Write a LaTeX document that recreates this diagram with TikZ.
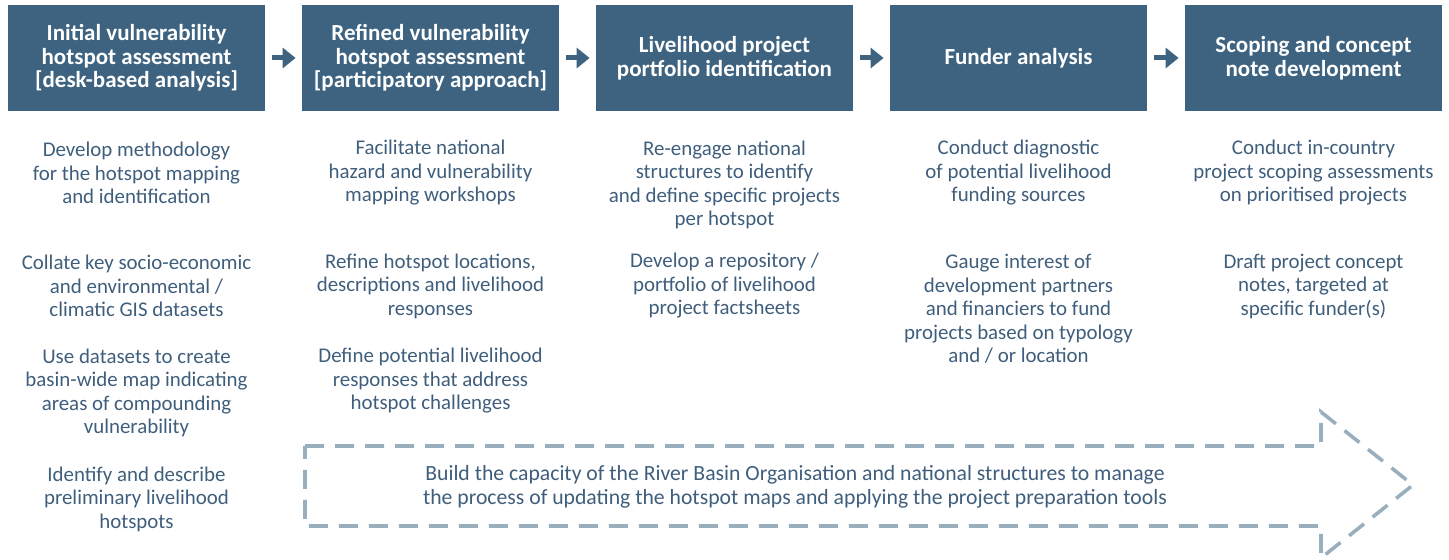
\documentclass[tikz,border=0pt]{standalone}
\usepackage{fontspec}
\setmainfont{Carlito}
\usepackage{xcolor}
\usetikzlibrary{arrows.meta,positioning}

\definecolor{boxblue}{HTML}{3E6380}
\definecolor{textblue}{HTML}{3F5E7C}
\definecolor{dashgray}{HTML}{9AAFBD}

\begin{document}
\begin{tikzpicture}[
  x=0.5pt, y=-0.5pt,
  head/.style={fill=boxblue, text=white, inner sep=0pt, align=center,
    minimum width=128.5pt, minimum height=53pt,
    font=\bfseries\fontsize{11.5}{11.75}\selectfont},
  body/.style={text=textblue, align=center, inner sep=0pt,
    font=\fontsize{10.45}{11.75}\selectfont},
  flow/.style={draw=boxblue, line width=2.5pt,
    -{Triangle[length=6.5pt,width=10pt]}},
  outline/.style={draw=dashgray, line width=1.8pt,
    dash pattern=on 9.5pt off 5.5pt}
]
\useasboundingbox (0,0) rectangle (1449,560);

% process steps
\node[head] (h1) at (136.5,58) {Initial vulnerability\\hotspot assessment\\{[desk-based analysis]}};
\node[head] (h2) at (430.5,58) {Refined vulnerability\\hotspot assessment\\{[participatory approach]}};
\node[head] (h3) at (724.5,58) {Livelihood project\\portfolio identification};
\node[head] (h4) at (1018.5,58) {Funder analysis};
\node[head] (h5) at (1313.5,58) {Scoping and concept\\note development};

\foreach \a/\b in {h1/h2,h2/h3,h3/h4,h4/h5}
  \draw[flow] ([xshift=3.5pt]\a.east) -- ([xshift=-3pt]\b.west);

% activities under each step
\node[body] (a11) at (136.5,173) {Develop methodology\\for the hotspot mapping\\and identification};
\node[body] (a12) at (136.5,286) {Collate key socio-economic\\and environmental /\\climatic GIS datasets};
\node[body] (a13) at (136.5,393) {Use datasets to create\\basin-wide map indicating\\areas of compounding\\vulnerability};
\node[body] (a14) at (136.5,499) {Identify and describe\\preliminary livelihood\\hotspots};

\node[body] (a21) at (430.5,173) {Facilitate national\\hazard and vulnerability\\mapping workshops};
\node[body] (a22) at (430.5,286) {Refine hotspot locations,\\descriptions and livelihood\\responses};
\node[body] (a23) at (430.5,381) {Define potential livelihood\\responses that address\\hotspot challenges};

\node[body] (a31) at (724.5,185) {Re-engage national\\structures to identify\\and define specific projects\\per hotspot};
\node[body] (a32) at (724.5,286) {Develop a repository /\\portfolio of livelihood\\project factsheets};

\node[body] (a41) at (1018.5,173) {Conduct diagnostic\\of potential livelihood\\funding sources};
\node[body] (a42) at (1018.5,309) {Gauge interest of\\development partners\\and financiers to fund\\projects based on typology\\and / or location};

\node[body] (a51) at (1313.5,173) {Conduct in-country\\project scoping assessments\\on prioritised projects};
\node[body] (a52) at (1313.5,286) {Draft project concept\\notes, targeted at\\specific funder(s)};

% capacity building arrow
\draw[outline] (305,446) -- (1321,446) -- (1321,412) -- (1413,485)
  -- (1321,558) -- (1321,526) -- (305,526) -- cycle;
\node[body, font=\fontsize{10.85}{11.75}\selectfont] (cap) at (795,487) {Build the capacity of the River Basin Organisation and national structures to manage\\the process of updating the hotspot maps and applying the project preparation tools};
\end{tikzpicture}
\end{document}
